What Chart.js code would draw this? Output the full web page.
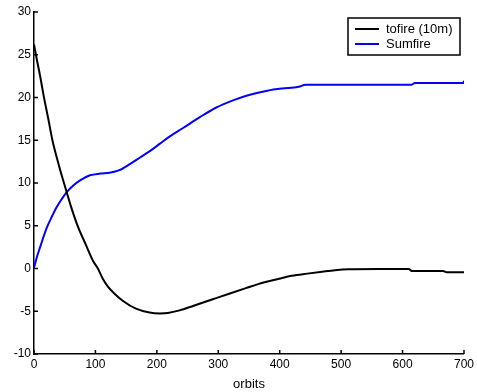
<!DOCTYPE html>
<html>
<head>
<meta charset="utf-8">
<script src="https://cdn.jsdelivr.net/npm/chart.js@4/dist/chart.umd.min.js"></script>
<style>
  html, body { margin: 0; padding: 0; background: #fff; }
  #wrap { width: 477px; height: 392px; }
</style>
</head>
<body>
<div id="wrap"><canvas id="orbitChart" width="477" height="392"></canvas></div>
<script>
// tofire (10m) - black curve
const tofireX = [0, 5, 10, 16, 23, 30, 40, 50, 60, 72, 84, 96, 104, 112, 120, 129, 145, 166, 188, 205, 218, 237, 260, 291, 320, 345, 366, 399, 420, 445, 469, 490, 512, 560, 610, 615, 666, 672, 700];
const tofireY = [26.2, 24.3, 22.5, 20.1, 17.6, 15.0, 12.2, 9.7, 7.3, 4.8, 2.85, 0.9, 0.0, -1.2, -2.1, -2.8, -3.8, -4.7, -5.15, -5.25, -5.2, -4.9, -4.35, -3.6, -2.9, -2.3, -1.8, -1.2, -0.85, -0.6, -0.38, -0.2, -0.09, -0.05, -0.07, -0.3, -0.3, -0.45, -0.45];

// Sumfire - blue curve
const sumfireX = [0, 5, 10, 21, 30, 37, 45, 53, 64, 75, 91, 108, 123, 139, 156, 172, 188, 205, 220, 242, 270, 296, 325, 350, 380, 404, 431, 442, 500, 560, 615, 620, 660, 699, 700];
const sumfireY = [0.1, 1.4, 2.5, 4.8, 6.2, 7.2, 8.1, 8.9, 9.7, 10.3, 10.9, 11.1, 11.2, 11.5, 12.2, 12.95, 13.7, 14.6, 15.4, 16.4, 17.7, 18.8, 19.7, 20.3, 20.8, 21.05, 21.25, 21.5, 21.5, 21.5, 21.5, 21.7, 21.7, 21.7, 21.95];

const xTicks = [0, 100, 200, 300, 400, 500, 600, 700];
const yTicks = [-10, -5, 0, 5, 10, 15, 20, 25, 30];

const toPoints = (xs, ys) => xs.map((x, i) => ({ x: x, y: ys[i] }));

// inward tick marks, matlab style
const inwardTicks = {
    id: 'inwardTicks',
    afterDraw(chart) {
        const ctx = chart.ctx;
        const xs = chart.scales.x, ys = chart.scales.y;
        const a = chart.chartArea;
        ctx.save();
        ctx.strokeStyle = '#000';
        ctx.lineWidth = 1.5;
        ctx.beginPath();
        xTicks.forEach(v => {
            const px = xs.getPixelForValue(v);
            ctx.moveTo(px, a.bottom);
            ctx.lineTo(px, a.bottom - 4);
        });
        yTicks.forEach(v => {
            const py = ys.getPixelForValue(v);
            ctx.moveTo(a.left, py);
            ctx.lineTo(a.left + 4, py);
        });
        ctx.stroke();
        ctx.restore();
    }
};

// boxed legend top right
const boxLegend = {
    id: 'boxLegend',
    afterDraw(chart) {
        const ctx = chart.ctx;
        const x0 = 348, y0 = 18, w = 112, h = 37;
        ctx.save();
        ctx.fillStyle = '#fff';
        ctx.fillRect(x0, y0, w, h);
        ctx.strokeStyle = '#000';
        ctx.lineWidth = 1.5;
        ctx.strokeRect(x0, y0, w, h);
        ctx.font = '13px "Liberation Sans", Arial, sans-serif';
        ctx.textBaseline = 'middle';
        chart.data.datasets.forEach((ds, i) => {
            const yy = y0 + 11 + i * 15;
            ctx.strokeStyle = ds.borderColor;
            ctx.lineWidth = 2;
            ctx.beginPath();
            ctx.moveTo(355, yy);
            ctx.lineTo(379, yy);
            ctx.stroke();
            ctx.fillStyle = '#000';
            ctx.fillText(ds.label, 386, yy);
        });
        ctx.restore();
    }
};

const orbitCtx = document.getElementById('orbitChart').getContext('2d');
const orbitChart = new Chart(orbitCtx, {
    type: 'line',
    data: {
        datasets: [{
            label: 'tofire (10m)',
            data: toPoints(tofireX, tofireY),
            borderColor: '#000000',
            borderWidth: 2,
            pointRadius: 0,
            cubicInterpolationMode: 'monotone',
            fill: false
        }, {
            label: 'Sumfire',
            data: toPoints(sumfireX, sumfireY),
            borderColor: '#0000ff',
            borderWidth: 2,
            pointRadius: 0,
            cubicInterpolationMode: 'monotone',
            fill: false
        }]
    },
    options: {
        responsive: false,
        animation: false,
        layout: { padding: { top: 12, right: 11, left: 0, bottom: 0 } },
        plugins: {
            legend: { display: false },
            tooltip: { enabled: false }
        },
        scales: {
            x: {
                type: 'linear',
                min: 0,
                max: 700,
                afterFit: (s) => { s.height = 38; },
                afterBuildTicks: (s) => { s.ticks = xTicks.map(v => ({ value: v })); },
                grid: { drawOnChartArea: false, drawTicks: false },
                border: { color: '#000', width: 1.5 },
                ticks: {
                    color: '#000',
                    padding: 3,
                    maxRotation: 0,
                    font: { family: '"Liberation Sans", Arial, sans-serif', size: 12 }
                },
                title: {
                    display: true,
                    text: 'orbits',
                    color: '#000',
                    padding: { top: 0, bottom: 0 },
                    font: { family: '"Liberation Sans", Arial, sans-serif', size: 13 }
                }
            },
            y: {
                min: -10,
                max: 30,
                afterFit: (s) => { s.width = 34; },
                afterBuildTicks: (s) => { s.ticks = yTicks.map(v => ({ value: v })); },
                grid: { drawOnChartArea: false, drawTicks: false },
                border: { color: '#000', width: 1.5 },
                ticks: {
                    color: '#000',
                    padding: 3,
                    font: { family: '"Liberation Sans", Arial, sans-serif', size: 12 }
                }
            }
        }
    },
    plugins: [inwardTicks, boxLegend]
});
</script>
</body>
</html>
